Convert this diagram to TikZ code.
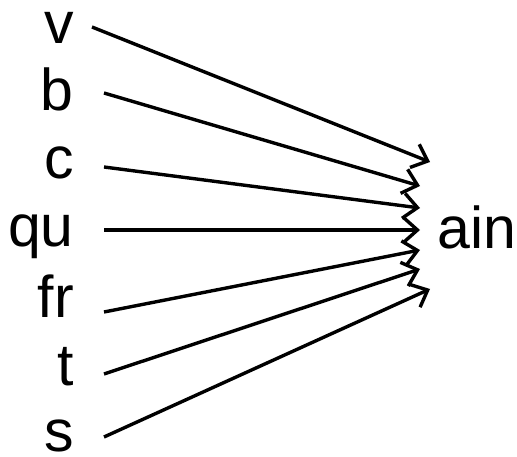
\documentclass[tikz,border=0pt]{standalone}
\usepackage{fontspec}
\setmainfont{Liberation Sans}
\usetikzlibrary{arrows.meta}

\tikzset{
  lbl/.style={inner sep=0pt, font=\fontsize{59}{70}\selectfont},
  arr/.style={line width=3.4pt, -{Straight Barb[length=14pt,width=25pt]}}
}

\begin{document}
\begin{tikzpicture}[x=1pt,y=-1pt]
\useasboundingbox (0,0) rectangle (517,457);

% onsets
\node[lbl, anchor=base east] (v)  at (74,44)  {v};
\node[lbl, anchor=base east] (b)  at (74,111) {b};
\node[lbl, anchor=base east] (c)  at (74,179) {c};
\node[lbl, anchor=base east] (qu) at (74,247) {qu};
\node[lbl, anchor=base east] (fr) at (74,317) {fr};
\node[lbl, anchor=base east] (t)  at (74,385) {t};
\node[lbl, anchor=base east] (s)  at (74,451) {s};

% rime
\node[lbl, anchor=base west] (ain) at (437,249) {ain};

% arrow ends
\coordinate (tv) at (430,162);
\coordinate (tb) at (420,186);
\coordinate (tc) at (420,208);
\coordinate (tq) at (420,230);
\coordinate (tf) at (420,250);
\coordinate (tt) at (420,269);
\coordinate (ts) at (430,289);

\draw[arr] ([xshift=18,yshift=17]v.base east)  -- (tv);
\draw[arr] ([xshift=30,yshift=18]b.base east)  -- (tb);
\draw[arr] ([xshift=30,yshift=12]c.base east)  -- (tc);
\draw[arr] ([xshift=30,yshift=17]qu.base east) -- (tq);
\draw[arr] ([xshift=30,yshift=5]fr.base east)  -- (tf);
\draw[arr] ([xshift=30,yshift=11]t.base east)  -- (tt);
\draw[arr] ([xshift=30,yshift=14]s.base east)  -- (ts);
\end{tikzpicture}
\end{document}
